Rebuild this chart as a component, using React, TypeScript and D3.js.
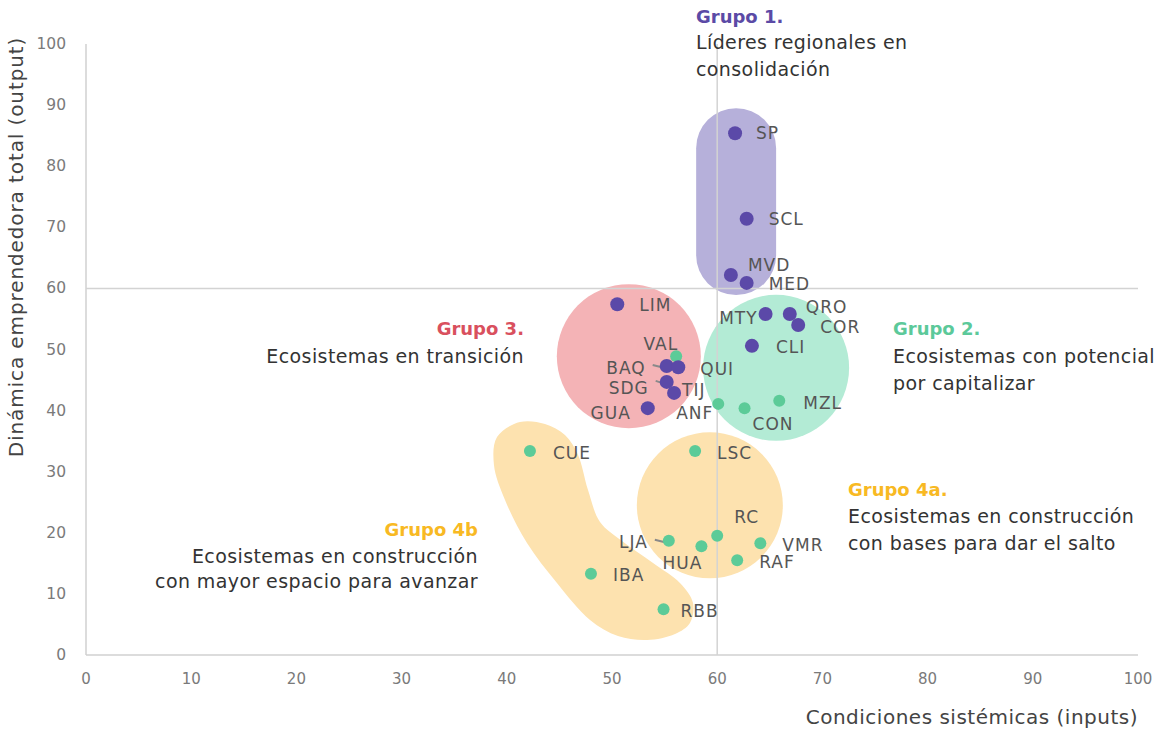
import React from "react";
import * as d3 from "d3";

// Grupo 1/2/3 cities (purple) and Grupo 2/4 cities (green)
const purpleCodes = ["SP", "SCL", "MVD", "MED", "LIM", "MTY", "QRO", "COR", "CLI", "BAQ", "QUI", "SDG", "TIJ", "GUA"];
const purpleX = [61.7, 62.8, 61.3, 62.8, 50.5, 64.6, 66.9, 67.7, 63.3, 55.2, 56.3, 55.2, 55.9, 53.4];
const purpleY = [85.4, 71.4, 62.2, 60.9, 57.4, 55.8, 55.8, 54.0, 50.6, 47.3, 47.1, 44.7, 42.9, 40.4];

const greenCodes = ["VAL", "ANF", "CON", "MZL", "CUE", "LSC", "RC", "LJA", "HUA", "VMR", "RAF", "IBA", "RBB"];
const greenX = [56.1, 60.1, 62.6, 65.9, 42.2, 57.9, 60.0, 55.4, 58.5, 64.1, 61.9, 48.0, 54.9];
const greenY = [48.9, 41.1, 40.4, 41.6, 33.4, 33.4, 19.5, 18.7, 17.8, 18.3, 15.5, 13.3, 7.5];

const xTicks = [0, 10, 20, 30, 40, 50, 60, 70, 80, 90, 100];
const yTicks = [0, 10, 20, 30, 40, 50, 60, 70, 80, 90, 100];

// label placement: [dx, dy, anchor, connector]
const labelPos: Record<string, [number, number, string, boolean?]> = {
  SP: [21, 0, "start"], SCL: [22, 0, "start"], MVD: [17, -10, "start"], MED: [22, 1, "start"],
  LIM: [22, 1, "start"], MTY: [-8, 4, "end"], QRO: [16, -7, "start"], COR: [22, 2, "start"],
  CLI: [24, 1, "start"], BAQ: [-21, 2, "end", true], QUI: [22, 2, "start"], SDG: [-18, 6, "end", true],
  TIJ: [8, -3, "start"], GUA: [-17, 5, "end"], VAL: [2, -12, "end"], ANF: [-5, 9, "end"],
  CON: [8, 16, "start"], MZL: [24, 2, "start"], CUE: [23, 2, "start"], LSC: [22, 2, "start"],
  RC: [17, -19, "start"], LJA: [-21, 1, "end", true], HUA: [-19, 17, "middle"], VMR: [22, 2, "start"],
  RAF: [22, 2, "start"], IBA: [22, 1, "start"], RBB: [17, 2, "start"],
};

// outline of the Grupo 4b blob, in data units
const blobX = [41.25, 43.63, 45.53, 46.77, 47.72, 48.86, 50.95, 53.9, 56.46, 57.7, 57.41, 55.99, 53.33, 50.57, 47.91, 44.77, 41.92, 39.83, 38.78, 39.07];
const blobY = [38.13, 37.81, 36.01, 32.73, 27.0, 21.77, 18.66, 15.06, 11.78, 8.51, 5.24, 3.44, 2.45, 3.11, 5.73, 11.78, 18.33, 25.37, 31.1, 35.68];

const FONT = "'DejaVu Sans', sans-serif";
const PURPLE = "#5b49a8";
const GREEN = "#5ccb98";

export default function App() {
  const width = 1156;
  const height = 731;
  const margin = { top: 44, right: 18, bottom: 76, left: 86 };
  const x = d3.scaleLinear().domain([0, 100]).range([margin.left, width - margin.right]);
  const y = d3.scaleLinear().domain([0, 100]).range([height - margin.bottom, margin.top]);

  const blob = d3
    .line<number>()
    .x((i) => x(blobX[i]))
    .y((i) => y(blobY[i]))
    .curve(d3.curveCatmullRomClosed.alpha(0.5))(blobX.map((_, i) => i)) || "";

  const points = [
    ...greenCodes.map((c, i) => ({ code: c, x: greenX[i], y: greenY[i], color: GREEN, r: 6 })),
    ...purpleCodes.map((c, i) => ({ code: c, x: purpleX[i], y: purpleY[i], color: PURPLE, r: 7 })),
  ];

  const pillTop = y(89.5);
  const pillBottom = y(58.9);
  const pillLeft = x(58.0);
  const pillRight = x(65.6);

  return (
    <svg width={width} height={height} style={{ position: "absolute", left: 0, top: 0 }} fontFamily={FONT}>
      {/* group shapes */}
      <rect x={pillLeft} y={pillTop} width={pillRight - pillLeft} height={pillBottom - pillTop}
        rx={(pillRight - pillLeft) / 2} fill="#b6b0da" />
      <circle cx={x(51.6)} cy={y(48.9)} r={72} fill="#f4b3b6" />
      <circle cx={x(65.6)} cy={y(47.0)} r={73} fill="#b3ebd5" />
      <circle cx={x(59.3)} cy={y(24.5)} r={73} fill="#fde2af" />
      <path d={blob} fill="#fde2af" />

      {/* axes */}
      <line x1={x(0)} x2={x(0)} y1={y(0)} y2={y(100)} stroke="#d0d0d0" strokeWidth={1.5} />
      <line x1={x(0)} x2={x(100)} y1={y(0)} y2={y(0)} stroke="#d0d0d0" strokeWidth={1.5} />
      <line x1={x(60)} x2={x(60)} y1={y(0)} y2={y(100)} stroke="#d3d3d3" strokeWidth={1.5} />
      <line x1={x(0)} x2={x(100)} y1={y(60)} y2={y(60)} stroke="#d3d3d3" strokeWidth={1.5} />

      {xTicks.map((t) => (
        <text key={"x" + t} x={x(t)} y={y(0) + 24} textAnchor="middle" dominantBaseline="central"
          fontSize={15} fill="#7a7a7a">{t}</text>
      ))}
      {yTicks.map((t) => (
        <text key={"y" + t} x={66} y={y(t)} textAnchor="end" dominantBaseline="central"
          fontSize={15.5} fill="#7a7a7a">{t}</text>
      ))}
      <text x={x(100)} y={717} textAnchor="end" dominantBaseline="central" fontSize={20}
        letterSpacing={0.5} fill="#444">
        Condiciones sistémicas (inputs)
      </text>
      <text transform="translate(16,247) rotate(-90)" textAnchor="middle" dominantBaseline="central"
        fontSize={20} letterSpacing={0.9} fill="#444">
        Dinámica emprendedora total (output)
      </text>

      {/* connectors */}
      {points.filter((p) => labelPos[p.code][3]).map((p) => (
        <line key={"c" + p.code} x1={x(p.x) + labelPos[p.code][0] + 7} y1={y(p.y) - 1}
          x2={x(p.x) - 2} y2={y(p.y) + 2} stroke="#8a8a8a" strokeWidth={2} />
      ))}

      {/* points */}
      {points.map((p) => (
        <circle key={p.code} cx={x(p.x)} cy={y(p.y)} r={p.r} fill={p.color} />
      ))}
      {points.map((p) => {
        const [dx, dy, anchor] = labelPos[p.code];
        return (
          <text key={"l" + p.code} x={x(p.x) + dx} y={y(p.y) + dy} textAnchor={anchor}
            dominantBaseline="central" fontSize={17} letterSpacing={1} fill="#555">{p.code}</text>
        );
      })}

      {/* group annotations */}
      <g fontSize={19} letterSpacing={0.4} fill="#333">
        <text x={696} y={16} dominantBaseline="central" fontSize={18} letterSpacing={0} fontWeight="bold" fill="#5b4aa6">Grupo 1.</text>
        <text x={696} y={42} dominantBaseline="central">Líderes regionales en</text>
        <text x={696} y={69} dominantBaseline="central">consolidación</text>

        <text x={524} y={328} textAnchor="end" dominantBaseline="central" fontSize={18} letterSpacing={0} fontWeight="bold" fill="#d9505e">Grupo 3.</text>
        <text x={524} y={356} textAnchor="end" dominantBaseline="central">Ecosistemas en transición</text>

        <text x={893} y={328} dominantBaseline="central" fontSize={18} letterSpacing={0} fontWeight="bold" fill="#5cc99a">Grupo 2.</text>
        <text x={893} y={356} dominantBaseline="central">Ecosistemas con potencial</text>
        <text x={893} y={383} dominantBaseline="central">por capitalizar</text>

        <text x={848} y={489} dominantBaseline="central" fontSize={18} letterSpacing={0} fontWeight="bold" fill="#f8b923">Grupo 4a.</text>
        <text x={848} y={516} dominantBaseline="central">Ecosistemas en construcción</text>
        <text x={848} y={543} dominantBaseline="central">con bases para dar el salto</text>

        <text x={478} y={529} textAnchor="end" dominantBaseline="central" fontSize={18} letterSpacing={0} fontWeight="bold" fill="#f8b923">Grupo 4b</text>
        <text x={478} y={556} textAnchor="end" dominantBaseline="central">Ecosistemas en construcción</text>
        <text x={478} y={581} textAnchor="end" dominantBaseline="central">con mayor espacio para avanzar</text>
      </g>
    </svg>
  );
}
